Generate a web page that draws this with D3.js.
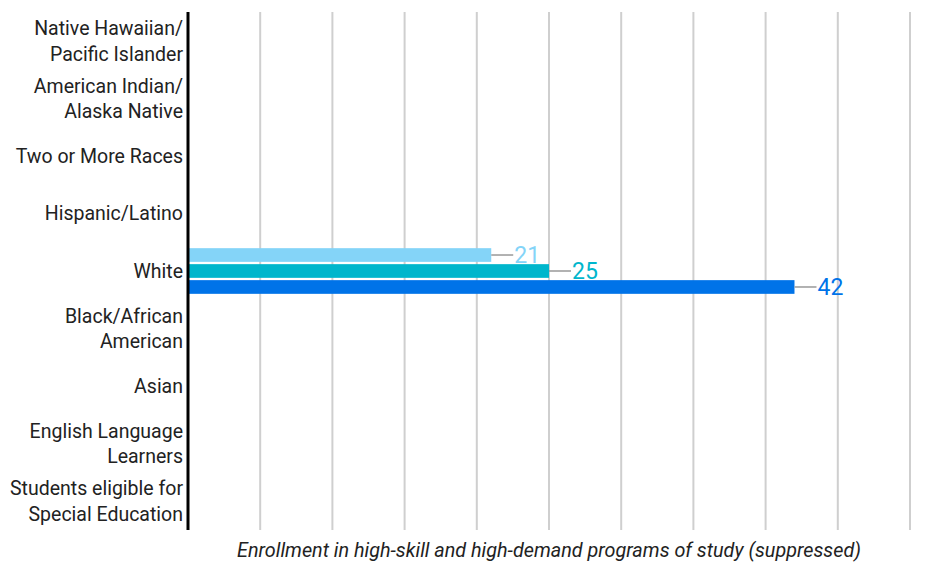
<!DOCTYPE html>
<html><head><meta charset="utf-8">
<script src="https://cdn.jsdelivr.net/npm/d3@7"></script>
<style>body{margin:0;background:#fff}svg{display:block;font-family:Roboto,sans-serif}</style>
</head><body><svg id="c" width="945" height="562"></svg>
<script>
const categories = [
  ["Native Hawaiian/","Pacific Islander"],
  ["American Indian/","Alaska Native"],
  ["Two or More Races"],
  ["Hispanic/Latino"],
  ["White"],
  ["Black/African","American"],
  ["Asian"],
  ["English Language","Learners"],
  ["Students eligible for","Special Education"]
];
const seriesNames = ["Series A","Series B","Series C"];
const seriesColors = ["#84d4f8","#00b6cc","#0073e8"];
// values per series, aligned with categories (null = suppressed)
const seriesA = [null,null,null,null,21,null,null,null,null];
const seriesB = [null,null,null,null,25,null,null,null,null];
const seriesC = [null,null,null,null,42,null,null,null,null];
const xTicks = [0,5,10,15,20,25,30,35,40,45,50];
const xTitle = "Enrollment in high-skill and high-demand programs of study (suppressed)";

const seriesValues = [seriesA, seriesB, seriesC];
const svg = d3.select("#c");
const m = {l:188, r:910, t:12, b:530};
const catKeys = categories.map(c => c.join(" "));
const x = d3.scaleLinear().domain([0,50]).range([m.l, m.r]);
const y = d3.scaleBand().domain(catKeys).range([m.t, m.b]);
const y1 = d3.scaleBand().domain(seriesNames).range([0, y.bandwidth()]).paddingInner(0.144).paddingOuter(0.372);

// gridlines
svg.append("g").selectAll("line").data(xTicks.filter(t => t > 0)).join("line")
  .attr("x1", d => x(d)).attr("x2", d => x(d))
  .attr("y1", m.t).attr("y2", m.b)
  .attr("stroke", "#cfcfcf").attr("stroke-width", 2);

// bars
const rows = [];
seriesValues.forEach((vals, si) => vals.forEach((v, ci) => {
  if (v != null) rows.push({cat: catKeys[ci], s: seriesNames[si], v, color: seriesColors[si]});
}));
const g = svg.append("g");
g.selectAll("rect").data(rows).join("rect")
  .attr("x", x(0)).attr("y", d => y(d.cat) + y1(d.s))
  .attr("width", d => x(d.v) - x(0)).attr("height", y1.bandwidth())
  .attr("fill", d => d.color);
g.selectAll("line.lead").data(rows).join("line").attr("class","lead")
  .attr("x1", d => x(d.v)).attr("x2", d => x(d.v) + 22)
  .attr("y1", d => y(d.cat) + y1(d.s) + y1.bandwidth()/2)
  .attr("y2", d => y(d.cat) + y1(d.s) + y1.bandwidth()/2)
  .attr("stroke", "#999").attr("stroke-width", 1.5);
g.selectAll("text.val").data(rows).join("text").attr("class","val")
  .attr("x", d => x(d.v) + 23)
  .attr("y", d => y(d.cat) + y1(d.s) + y1.bandwidth()/2)
  .attr("dy", "0.36em")
  .attr("font-size", 23).attr("fill", d => d.color)
  .text(d => d.v);

// y axis line
svg.append("line").attr("x1", m.l).attr("x2", m.l).attr("y1", m.t).attr("y2", m.b)
  .attr("stroke", "#000").attr("stroke-width", 3);

// category labels
const lab = svg.append("g").attr("font-size", 19.5).attr("fill", "#222").attr("text-anchor", "end");
categories.forEach((lines, i) => {
  const cy = y(catKeys[i]) + y.bandwidth()/2;
  const lh = 25.5;
  const t = lab.append("text").attr("x", m.l - 5);
  lines.forEach((ln, j) => {
    t.append("tspan").attr("x", m.l - 5)
      .attr("y", cy + (j - (lines.length - 1)/2) * lh)
      .attr("dy", "0.36em").text(ln);
  });
});

// x title
svg.append("text").attr("x", (m.l + m.r)/2).attr("y", 550).attr("dy", "0.36em")
  .attr("text-anchor", "middle").attr("font-style", "italic").attr("font-size", 19.8)
  .attr("fill", "#222").text(xTitle);
</script></body></html>
